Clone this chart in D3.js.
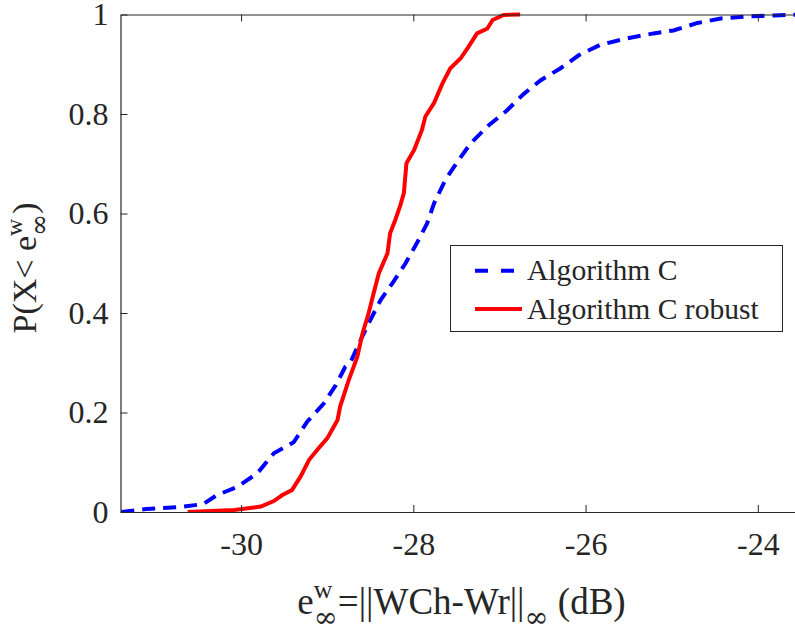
<!DOCTYPE html>
<html>

<head>
    <meta charset="utf-8">
    <script src="https://d3js.org/d3.v7.min.js"></script>
    <style>
        body { margin: 0; background: #fff; }
        text { font-family: "Liberation Serif", "Times New Roman", serif; fill: #262626; white-space: pre; }
    </style>
</head>

<body>
    <div id="my_dataviz"></div>
    <script>
    // CDF: error (dB) and probability
    var algoX = [-31.39, -31.1, -30.7, -30.44, -30.28, -30.05, -29.81, -29.62, -29.39, -29.23,
        -29.04, -28.9, -28.79, -28.73, -28.63, -28.52, -28.38, -28.23, -28.09, -27.96,
        -27.84, -27.76, -27.63, -27.48, -27.33, -27.12, -26.92, -26.72, -26.52, -26.29,
        -26.08, -25.83, -25.52, -25.21, -24.98, -24.7, -24.43, -24.12, -23.81, -23.5];
    var algoP = [0, 0.006, 0.01, 0.016, 0.034, 0.05, 0.078, 0.118, 0.14, 0.182,
        0.218, 0.255, 0.292, 0.301, 0.339, 0.379, 0.426, 0.463, 0.5, 0.54,
        0.58, 0.62, 0.667, 0.706, 0.742, 0.778, 0.806, 0.84, 0.868, 0.892,
        0.918, 0.939, 0.952, 0.962, 0.968, 0.983, 0.992, 0.996, 0.998, 1];

    var robustX = [-30.62, -30.08, -29.77, -29.62, -29.52, -29.41, -29.31, -29.21, -29.1, -29.0,
        -28.88, -28.85, -28.75, -28.65, -28.59, -28.52, -28.46, -28.4, -28.3, -28.27,
        -28.21, -28.15, -28.11, -28.08, -27.99, -27.9, -27.86, -27.76, -27.66, -27.57,
        -27.45, -27.36, -27.26, -27.14, -27.08, -26.95, -26.76];
    var robustP = [0, 0.004, 0.011, 0.022, 0.034, 0.044, 0.071, 0.105, 0.128, 0.148,
        0.185, 0.212, 0.265, 0.312, 0.359, 0.399, 0.44, 0.48, 0.52, 0.56,
        0.587, 0.617, 0.641, 0.701, 0.728, 0.768, 0.795, 0.822, 0.862, 0.892,
        0.912, 0.935, 0.962, 0.972, 0.989, 0.999, 1];

    var xTicks = [-30, -28, -26, -24];
    var yTicks = [0, 0.2, 0.4, 0.6, 0.8, 1];
    var seriesNames = ["Algorithm C", "Algorithm C robust"];

    var W = 795, H = 630;
    var pLeft = 120.5, pTop = 14.5, pBottom = 512, pRight = 809.5;
    var serif = "'Liberation Serif', 'Times New Roman', serif";

    var svg = d3.select("#my_dataviz")
        .append("svg")
        .attr("width", W)
        .attr("height", H);

    var x = d3.scaleLinear().domain([-31.4, -23.4]).range([pLeft, pRight]);
    var y = d3.scaleLinear().domain([0, 1]).range([pBottom, pTop]);

    svg.append("clipPath").attr("id", "clip")
        .append("rect")
        .attr("x", pLeft).attr("y", pTop - 3)
        .attr("width", pRight - pLeft).attr("height", pBottom - pTop + 3);

    var line = d3.line()
        .x(function(d) { return x(d[0]); })
        .y(function(d) { return y(d[1]); });

    var algo = algoX.map(function(v, i) { return [v, algoP[i]]; });
    var robust = robustX.map(function(v, i) { return [v, robustP[i]]; });

    var plot = svg.append("g").attr("clip-path", "url(#clip)");

    plot.append("path")
        .datum(algo)
        .attr("d", line)
        .style("fill", "none")
        .style("stroke", "#0000ff")
        .style("stroke-width", 4)
        .style("stroke-dasharray", "13,8");

    plot.append("path")
        .datum(robust)
        .attr("d", line)
        .style("fill", "none")
        .style("stroke", "#ff0000")
        .style("stroke-width", 4);

    // axes, ticks pointing inward
    function styleAxis(g) {
        g.attr("font-family", null);
        g.select(".domain").style("stroke", "#262626").style("stroke-width", 1.2);
        g.selectAll(".tick line").style("stroke", "#262626").style("stroke-width", 1);
        g.selectAll(".tick text").style("fill", "#262626")
            .style("font-family", serif).style("font-size", "32px");
    }

    svg.append("g")
        .attr("transform", "translate(0," + pBottom + ")")
        .call(d3.axisBottom(x).tickValues(xTicks).tickSize(-7).tickSizeOuter(0)
            .tickPadding(20).tickFormat(function(d) { return String(d); }))
        .call(styleAxis);

    svg.append("g")
        .attr("transform", "translate(0," + pTop + ")")
        .call(d3.axisTop(x).tickValues(xTicks).tickSize(-7).tickSizeOuter(0)
            .tickFormat(""))
        .call(styleAxis);

    svg.append("g")
        .attr("transform", "translate(" + pLeft + ",0)")
        .call(d3.axisLeft(y).tickValues(yTicks).tickSize(-7).tickSizeOuter(0)
            .tickPadding(12).tickFormat(function(d) {
                return (d === 0 || d === 1) ? String(d) : d.toFixed(1);
            }))
        .call(styleAxis);

    // tex-like label: plain pieces and stacked sup/sub pieces
    function texLabel(parent, pieces, size) {
        var g = parent.append("g");
        var pos = 0;
        pieces.forEach(function(p) {
            var wA = 0, wB = 0;
            if (p.sup !== undefined) {
                var a = g.append("text").attr("x", pos).attr("y", -size * 0.42)
                    .style("font-size", size * 0.7 + "px").text(p.sup);
                wA = a.node().getComputedTextLength();
            }
            if (p.sub !== undefined) {
                var b = g.append("text").attr("x", pos).attr("y", size * 0.34)
                    .style("font-family", "'DejaVu Serif', serif")
                    .style("font-size", size * 0.78 + "px").text(p.sub);
                wB = b.node().getComputedTextLength();
            }
            if (p.t !== undefined) {
                var t = g.append("text").attr("x", pos)
                    .style("font-size", size + "px").text(p.t);
                wA = t.node().getComputedTextLength();
            }
            pos += Math.max(wA, wB);
        });
        return { g: g, width: pos };
    }

    var xl = texLabel(svg, [
        { t: "e" }, { sup: "w", sub: "\u221e" }, { t: "=||WCh-Wr||" }, { sub: "\u221e" }, { t: "\u00a0(dB)" }
    ], 37);
    xl.g.attr("transform", "translate(" + (461.5 - xl.width / 2) + ",614)");

    var yl = texLabel(svg, [
        { t: "P(X<\u00a0e" }, { sup: "w", sub: "\u221e" }, { t: ")" }
    ], 34);
    yl.g.attr("transform", "translate(36,268) rotate(-90) translate(" + (-yl.width / 2) + ",0)");

    // legend
    var lg = svg.append("g");
    lg.append("rect")
        .attr("x", 450.5).attr("y", 245.5)
        .attr("width", 332).attr("height", 86)
        .style("fill", "#fff")
        .style("stroke", "#262626")
        .style("stroke-width", 1);

    var legendRows = [
        { name: seriesNames[0], color: "#0000ff", dash: "13,13", yy: 270.7, base: 280 },
        { name: seriesNames[1], color: "#ff0000", dash: null, yy: 309, base: 319 }
    ];
    legendRows.forEach(function(r) {
        lg.append("line")
            .attr("x1", 475).attr("x2", 522)
            .attr("y1", r.yy).attr("y2", r.yy)
            .style("stroke", r.color)
            .style("stroke-width", 4)
            .style("stroke-dasharray", r.dash);
        lg.append("text")
            .attr("x", 527).attr("y", r.base)
            .style("font-size", "29.6px")
            .text(r.name);
    });
    </script>
</body>

</html>
